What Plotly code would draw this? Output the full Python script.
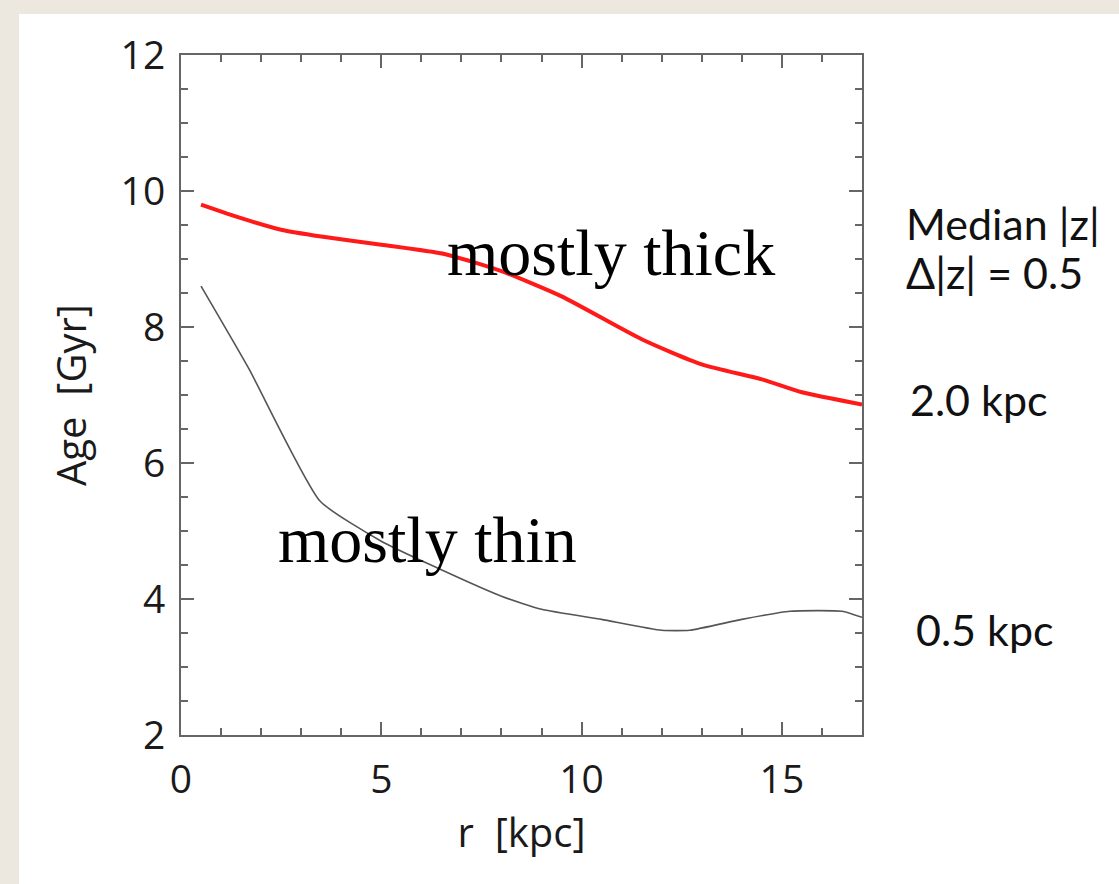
import plotly.graph_objects as go

# Median stellar age vs galactocentric radius, two height slices
r_thick = [0.5, 1.5, 2.5, 3.5, 5.0, 6.6, 8.0, 9.5, 11.5, 13.0, 14.5, 15.5, 17.0]
age_thick = [9.80, 9.60, 9.43, 9.33, 9.21, 9.07, 8.82, 8.45, 7.82, 7.45, 7.23, 7.04, 6.86]

r_thin = [0.5, 1.7, 3.47, 5.0, 6.2, 8.0, 9.0, 10.5, 12.0, 12.7, 14.0, 15.2, 16.5, 17.0]
age_thin = [8.60, 7.38, 5.44, 4.85, 4.51, 4.04, 3.85, 3.70, 3.54, 3.54, 3.70, 3.82, 3.82, 3.73]

x_range = [0, 17]
y_range = [2, 12]
x_ticks = [0, 5, 10, 15]
y_ticks = [2, 4, 6, 8, 10, 12]

fig = go.Figure()
fig.add_trace(go.Scatter(x=r_thick, y=age_thick, mode="lines",
                         line=dict(color="#ff1a1a", width=4, shape="spline", smoothing=0.6),
                         showlegend=False))
fig.add_trace(go.Scatter(x=r_thin, y=age_thin, mode="lines",
                         line=dict(color="#555555", width=1.6, shape="spline", smoothing=0.5),
                         showlegend=False))

label_font = dict(family="Open Sans", size=40, color="#1a1a1a")
axis_common = dict(
    showgrid=False, zeroline=False, showline=True, linecolor="#666666", linewidth=2,
    mirror="ticks", ticks="inside", ticklen=13, tickwidth=2, tickcolor="#666666",
    tickfont=dict(family="Open Sans", size=39, color="#1a1a1a"),
)

fig.update_xaxes(range=x_range, tickvals=x_ticks, ticktext=[str(v) for v in x_ticks],
                 minor=dict(ticks="inside", ticklen=7, dtick=1, tickwidth=2, tickcolor="#666666",
                            showgrid=False),
                 ticklabelstandoff=9,
                 title=dict(text="r  [kpc]", font=label_font, standoff=14),
                 **axis_common)
fig.update_yaxes(range=y_range, tickvals=y_ticks, ticktext=[str(v) for v in y_ticks],
                 minor=dict(ticks="inside", ticklen=7, dtick=0.5, tickwidth=2, tickcolor="#666666",
                            showgrid=False),
                 ticklabelstandoff=6,
                 title=dict(text="Age  [Gyr]", font=label_font, standoff=22),
                 **axis_common)

# beige border strips along the top and left of the page
fig.add_shape(type="rect", xref="paper", yref="paper",
              x0=-181 / 681, x1=(19 - 181) / 681, y0=-0.3, y1=1.2,
              fillcolor="#ece8e0", line=dict(width=0), layer="below")
fig.add_shape(type="rect", xref="paper", yref="paper",
              x0=-0.3, x1=1.5, y0=(735.5 - 14) / 680.5, y1=1.2,
              fillcolor="#ece8e0", line=dict(width=0), layer="below")

serif = dict(family="Liberation Serif", size=66, color="black")
fig.add_annotation(x=6.6, y=9.1, text="mostly thick", showarrow=False,
                   xanchor="left", yanchor="middle", font=serif)
fig.add_annotation(x=2.37, y=4.87, text="mostly thin", showarrow=False,
                   xanchor="left", yanchor="middle", font=serif)

side = dict(family="Lato", size=43, color="#111111")
fig.add_annotation(xref="paper", x=(904 - 181) / 681, y=9.52, text="Median |z|",
                   showarrow=False, xanchor="left", yanchor="middle", font=side)
fig.add_annotation(xref="paper", x=(904 - 181) / 681, y=8.80, text="Δ|z| = 0.5",
                   showarrow=False, xanchor="left", yanchor="middle", font=side)
fig.add_annotation(xref="paper", x=(908 - 181) / 681, y=6.93, text="2.0 kpc",
                   showarrow=False, xanchor="left", yanchor="middle", font=side)
fig.add_annotation(xref="paper", x=(914 - 181) / 681, y=3.55, text="0.5 kpc",
                   showarrow=False, xanchor="left", yanchor="middle", font=side)

fig.update_layout(
    width=1119, height=884,
    margin=dict(l=181, r=257, t=55, b=148.5),
    paper_bgcolor="white", plot_bgcolor="white",
)

fig.write_html("out.html")
